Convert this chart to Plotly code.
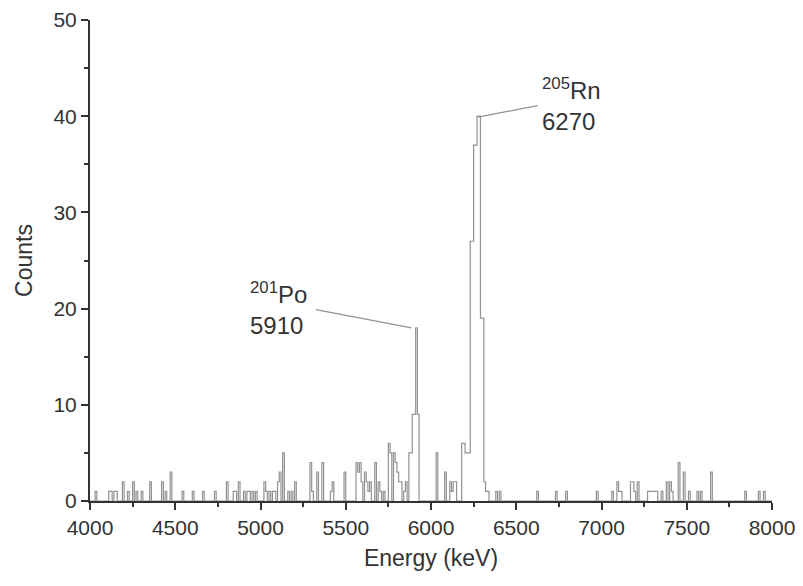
import numpy as np
import plotly.graph_objects as go

# espectro alfa: bins de 10 keV (borda esquerda do bin) e contagens
energias = [4030, 4110, 4120, 4140, 4150, 4190, 4220, 4250, 4270, 4300, 4350,
            4420, 4440, 4470, 4540, 4600, 4660, 4730, 4800, 4840, 4850, 4870,
            4900, 4920, 4930, 4950, 4970, 5020, 5030, 5050, 5070, 5080, 5100,
            5110, 5130, 5160, 5180, 5200, 5290, 5300, 5330, 5360, 5410, 5420,
            5490, 5560, 5570, 5580, 5590, 5610, 5620, 5630, 5640, 5670, 5690,
            5700, 5720, 5750, 5760, 5780, 5790, 5800, 5810, 5820, 5840, 5850,
            5870, 5880, 5890, 5900, 5910, 5920, 6030, 6080, 6110, 6120, 6130,
            6140, 6180, 6190, 6200, 6210, 6220, 6230, 6240, 6250, 6260, 6270,
            6280, 6290, 6300, 6310, 6320, 6330, 6380, 6400, 6620, 6730, 6790,
            6970, 7060, 7090, 7100, 7110, 7170, 7180, 7190, 7210, 7270, 7280,
            7290, 7300, 7310, 7320, 7350, 7380, 7400, 7410, 7450, 7480, 7510,
            7560, 7580, 7640, 7840, 7920, 7950]
contagens = [1, 1, 1, 1, 1, 2, 1, 2, 1, 1, 2,
             2, 1, 3, 1, 1, 1, 1, 2, 1, 1, 2,
             1, 1, 1, 1, 1, 2, 1, 1, 1, 1, 2,
             3, 5, 1, 1, 2, 4, 1, 3, 4, 1, 2,
             3, 4, 3, 4, 2, 3, 2, 1, 2, 4, 2,
             1, 1, 6, 5, 5, 4, 3, 2, 2, 1, 2,
             5, 5, 9, 9, 18, 9, 5, 3, 2, 1, 2,
             2, 6, 6, 5, 5, 5, 27, 27, 37, 37, 40,
             40, 19, 19, 2, 1, 1, 1, 1, 1, 1, 1,
             1, 1, 2, 1, 1, 2, 2, 1, 2, 1, 1,
             1, 1, 1, 1, 1, 2, 2, 1, 4, 3, 1,
             1, 1, 3, 1, 1, 1]

largura_bin = 10
bordas = np.arange(4000, 8000 + largura_bin, largura_bin)
espectro = np.zeros(len(bordas))
for e, c in zip(energias, contagens):
    espectro[(e - 4000) // largura_bin] = c

fonte = "Liberation Sans, Arial, sans-serif"
cinza_texto = "#333333"
cinza_linha = "#929292"

fig = go.Figure()
fig.add_trace(go.Scatter(x=bordas, y=espectro, mode="lines", line_shape="hv",
                         line=dict(color=cinza_linha, width=1.2), showlegend=False))

# anotacoes dos picos
fig.add_annotation(x=4925, y=20, xref="x", yref="y", xanchor="left", yanchor="middle",
                   text="<sup>201</sup>Po<br>5910", showarrow=False, align="left",
                   font=dict(family=fonte, size=24, color=cinza_texto))
fig.add_annotation(x=6640, y=41.2, xref="x", yref="y", xanchor="left", yanchor="middle",
                   text="<sup>205</sup>Rn<br>6270", showarrow=False, align="left",
                   font=dict(family=fonte, size=24, color=cinza_texto))
fig.add_shape(type="line", x0=5325, y0=19.9, x1=5885, y1=18.0,
              line=dict(color=cinza_linha, width=1.2))
fig.add_shape(type="line", x0=6625, y0=41.1, x1=6275, y1=39.9,
              line=dict(color=cinza_linha, width=1.2))

fig.update_xaxes(range=[4000, 8000], dtick=500, tick0=4000, ticks="outside", ticklen=7,
                 tickwidth=1.5, tickcolor=cinza_texto, showline=True, linecolor=cinza_texto,
                 linewidth=2, showgrid=False, zeroline=False, automargin=False,
                 ticklabeloverflow="allow",
                 minor=dict(dtick=250, ticks="outside", ticklen=4, tickcolor=cinza_texto),
                 title=dict(text="Energy (keV)", font=dict(family=fonte, size=23, color=cinza_texto),
                            standoff=12),
                 tickfont=dict(family=fonte, size=21, color=cinza_texto))
fig.update_yaxes(range=[0, 50], dtick=10, ticks="outside", ticklen=7, tickwidth=1.5,
                 tickcolor=cinza_texto, showline=True, linecolor=cinza_texto, linewidth=2,
                 showgrid=False, zeroline=False, automargin=False,
                 ticklabeloverflow="allow",
                 minor=dict(dtick=5, ticks="outside", ticklen=4, tickcolor=cinza_texto),
                 title=dict(text="Counts", font=dict(family=fonte, size=23, color=cinza_texto),
                            standoff=14),
                 tickfont=dict(family=fonte, size=21, color=cinza_texto))

# a pagina desloca o grafico 8px (margem do body), compensado aqui
fig.update_layout(width=803, height=586, plot_bgcolor="white", paper_bgcolor="white",
                  margin=dict(l=82, r=39, t=12, b=93))

fig.write_html("out.html")
